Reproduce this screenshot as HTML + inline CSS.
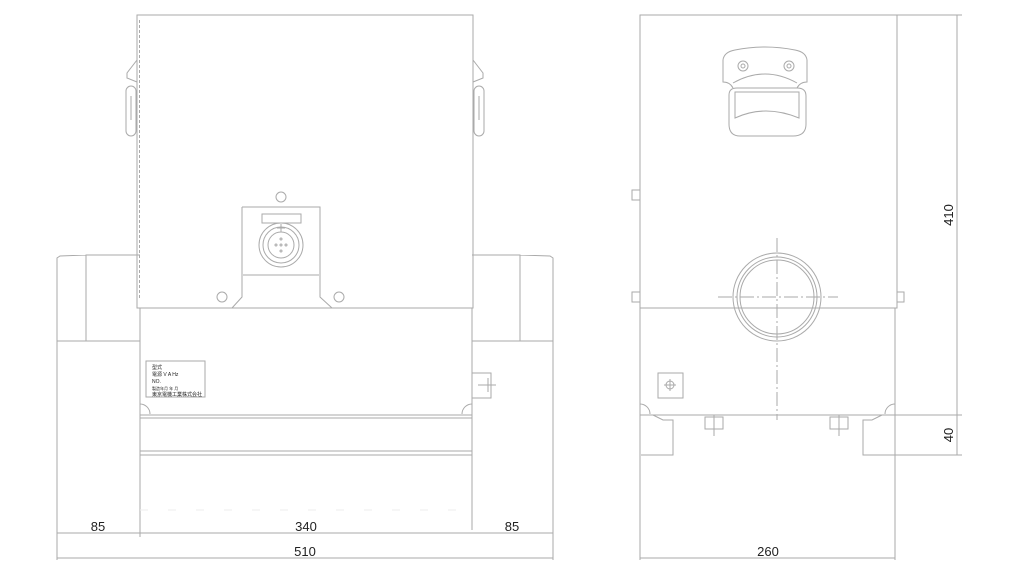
<!DOCTYPE html>
<html><head><style>body{margin:0;background:#fff}svg{display:block}text{font-family:"Liberation Sans","Noto Sans CJK JP",sans-serif;fill:#222}</style></head><body>
<svg width="1024" height="576" viewBox="0 0 1024 576" fill="none" stroke="#aaa" stroke-width="1">
<!-- LEFT VIEW -->
<rect x="137" y="15" width="336" height="293"/>
<line x1="139.5" y1="20" x2="139.5" y2="300" stroke-dasharray="3,2"/>
<path d="M137 48 V60 L127 73 V78 L137 82"/><rect x="126" y="86" width="10" height="50" rx="5"/><line x1="131" y1="96" x2="131" y2="120"/>
<path d="M473 48 V60 L483 73 V78 L473 82"/><rect x="474" y="86" width="10" height="50" rx="5"/><line x1="479" y1="96" x2="479" y2="120"/>
<path d="M140 308 V530 M472 308 V530"/>
<line x1="140" y1="415" x2="472" y2="415"/><line x1="140" y1="418" x2="472" y2="418"/>
<line x1="140" y1="451" x2="472" y2="451"/><line x1="140" y1="455" x2="472" y2="455"/>
<path d="M140 404 a10 10 0 0 1 10 10 M472 404 a10 10 0 0 0 -10 10"/>
<path d="M140 255 H86 V341 H140 M86 255 L60 256 L57 258 V560 M86 341 L57 341"/>
<path d="M472 255 H520 V341 H472 M520 255 L550 256 L553 258 V560 M520 341 L553 341"/>
<path d="M242 207 H320 V297 L332 308 M242 207 V297 L232 308"/>
<line x1="243" y1="275" x2="319" y2="275"/>
<rect x="262" y="214" width="39" height="9"/>
<circle cx="281" cy="245" r="22"/><circle cx="281" cy="245" r="18"/><circle cx="281" cy="245" r="13"/>
<circle cx="281" cy="239" r="1"/><circle cx="281" cy="251" r="1"/><circle cx="276" cy="245" r="1"/><circle cx="286" cy="245" r="1"/><circle cx="281" cy="245" r="1"/>
<path d="M277 228 H285 M281 224 V232"/>
<circle cx="281" cy="197" r="5"/><circle cx="222" cy="297" r="5"/><circle cx="339" cy="297" r="5"/>
<rect x="146" y="361" width="59" height="36"/>
<text x="152" y="369" font-size="5" stroke="none">型式</text>
<text x="152" y="376" font-size="5" stroke="none">電源  V  A  Hz</text>
<text x="152" y="383" font-size="5" stroke="none">NO.</text>
<text x="152" y="390" font-size="4" stroke="none">製造年月         年  月</text>
<text x="152" y="396" font-size="5" stroke="none">東京電機工業株式会社</text>
<rect x="472" y="373" width="19" height="25"/><path d="M478 385 H496 M488 378 V392"/>
<line x1="140" y1="510" x2="472" y2="510" stroke="#eee" stroke-dasharray="8,20"/>
<line x1="57" y1="533" x2="553" y2="533"/><line x1="57" y1="558" x2="553" y2="558"/>
<path d="M140 530 V537"/>
<text x="98" y="531" font-size="13" text-anchor="middle" stroke="none">85</text>
<text x="306" y="531" font-size="13" text-anchor="middle" stroke="none">340</text>
<text x="512" y="531" font-size="13" text-anchor="middle" stroke="none">85</text>
<text x="305" y="556" font-size="13" text-anchor="middle" stroke="none">510</text>
<!-- RIGHT VIEW -->
<rect x="640" y="15" width="257" height="293"/>
<path d="M640 308 V560 M895 308 V560"/>
<line x1="640" y1="415" x2="895" y2="415"/>
<path d="M640 404 a10 10 0 0 1 10 10 M895 404 a10 10 0 0 0 -10 10"/>
<rect x="632" y="190" width="8" height="10"/><rect x="632" y="292" width="8" height="10"/><rect x="897" y="292" width="7" height="10"/>
<circle cx="777" cy="297" r="44"/><circle cx="777" cy="297" r="40"/><circle cx="777" cy="297" r="37"/>
<path d="M718 297 H838 M777 238 V420" stroke-dasharray="14,3,2,3"/>
<rect x="658" y="373" width="25" height="25"/><circle cx="670" cy="385" r="4"/><path d="M664 385 H676 M670 379 V391"/>
<path d="M723 60 Q724 52 735 50 Q765 44 795 50 Q806 52 807 60 V82 Q800 82 797 88 M723 60 V82 Q730 82 733 88"/>
<path d="M733 83 Q765 65 797 83"/>
<circle cx="743" cy="66" r="5"/><circle cx="789" cy="66" r="5"/><circle cx="743" cy="66" r="2"/><circle cx="789" cy="66" r="2"/>
<path d="M729 95 Q729 88 737 88 H797 Q806 88 806 96 V124 Q806 136 793 136 H740 Q729 136 729 124 Z"/>
<path d="M735 92 H799 V118 Q765 104 735 118 Z"/>
<path d="M653 415 L663 420 H673 V455 H641"/>
<path d="M882 415 L872 420 H863 V455 H895"/>
<rect x="705" y="417" width="18" height="12"/><rect x="830" y="417" width="18" height="12"/>
<path d="M714 415 V436 M839 415 V436"/>
<path d="M897 15 H962 M895 415 H962 M895 455 H962 M957 15 V455"/>
<line x1="640" y1="558" x2="895" y2="558"/>
<text x="768" y="556" font-size="13" text-anchor="middle" stroke="none">260</text>
<text transform="translate(953,215) rotate(-90)" font-size="13" text-anchor="middle" stroke="none">410</text>
<text transform="translate(953,435) rotate(-90)" font-size="13" text-anchor="middle" stroke="none">40</text>
</svg>
</body></html>
